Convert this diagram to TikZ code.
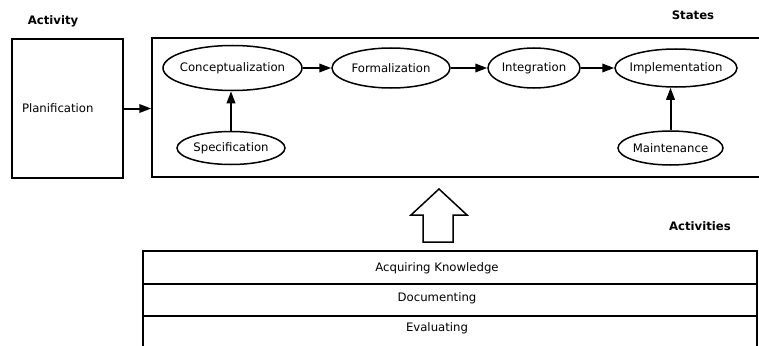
\documentclass[tikz,border=0pt]{standalone}
\usepackage{fontspec}
\setmainfont{DejaVu Sans}
\usetikzlibrary{shapes.geometric,arrows.meta}
\begin{document}
\begin{tikzpicture}[x=1pt,y=-1pt,
  st/.style={ellipse,draw,line width=1.5pt,inner xsep=-6pt,inner ysep=0pt,font=\fontsize{11.7}{13}\selectfont},
  box/.style={rectangle,draw,line width=1.5pt,inner sep=0pt},
  arr/.style={line width=2pt,-{Triangle[length=12pt,width=8.5pt]}},
  lbl/.style={font=\fontsize{11.7}{13}\selectfont\bfseries},
  txt/.style={font=\fontsize{11.7}{13}\selectfont}]
\clip (0,0) rectangle (759,345);
% headings
\node[lbl] (hact) at (53,21) {Activity};
\node[lbl] (hstates) at (693,15) {States};
\node[lbl] (hacts) at (700,226) {Activities};
% planification box
\node[box,txt,minimum height=139pt,text width=91pt,inner xsep=10pt,align=left] (plan) at (67.5,108.5) {Planification};
% states box (extends past right edge)
\node[box,minimum width=628pt,minimum height=139pt] (states) at (466,107.5) {};
% states
\node[st,minimum width=139pt,minimum height=45pt] (concept) at (232.5,68) {Conceptualization};
\node[st,minimum width=118pt,minimum height=40pt] (formal) at (391,68) {Formalization};
\node[st,minimum width=92pt,minimum height=40pt] (integ) at (534,68) {Integration};
\node[st,minimum width=122pt,minimum height=38pt] (impl) at (676,68) {Implementation};
\node[st,minimum width=108pt,minimum height=33pt] (spec) at (231,148) {Specification};
\node[st,minimum width=105pt,minimum height=34pt] (maint) at (670.5,148) {Maintenance};
% connectors
\draw[arr] (plan.east) -- (plan.east -| states.west);
\draw[arr] (concept) -- (formal);
\draw[arr] (formal) -- (integ);
\draw[arr] (integ) -- (impl);
\draw[arr] (spec.north) -- (spec.north |- concept.south);
\draw[arr] (maint.north) -- (maint.north |- impl.south);
% big up arrow
\draw[line width=1.5pt,line join=miter] (439,189) -- (467,215) -- (453,215) -- (453,242) -- (423,242) -- (423,215) -- (411,215) -- cycle;
% activity rows
\node[box,minimum width=614pt,minimum height=33pt] (r1) at (450,267.5) {};
\node[box,minimum width=614pt,minimum height=32pt] (r2) at (450,300) {};
\node[box,minimum width=614pt,minimum height=44pt] (r3) at (450,338) {};
\node[txt] (t1) at (437,268) {Acquiring Knowledge};
\node[txt] (t2) at (437,298) {Documenting};
\node[txt] (t3) at (437,328) {Evaluating};
\end{tikzpicture}
\end{document}
